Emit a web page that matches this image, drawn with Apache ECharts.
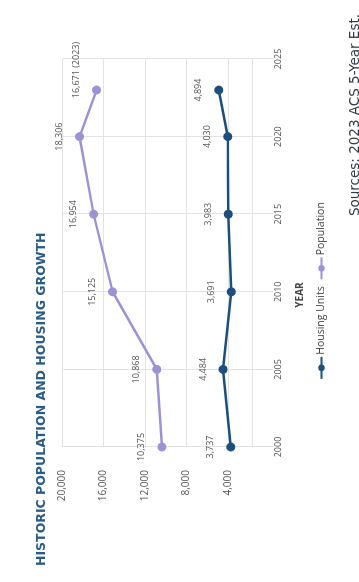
<!DOCTYPE html>
<html>
<head>
<meta charset="utf-8">
<script src="https://cdn.jsdelivr.net/npm/echarts@6/dist/echarts.min.js"></script>
<style>
html,body{margin:0;padding:0;background:#fff;width:359px;height:582px;overflow:hidden;}
#c{position:absolute;left:0;top:0;width:582px;height:359px;transform-origin:0 0;transform:translateY(582px) rotate(-90deg);}
</style>
</head>
<body>
<div id="c"></div>
<script>
const years = [2000, 2005, 2010, 2015, 2020, 2023];
const housingUnits = [3737, 4484, 3691, 3983, 4030, 4894];
const population = [10375, 10868, 15125, 16954, 18306, 16671];
const valueTicks = [4000, 8000, 12000, 16000, 20000];

const chart = echarts.init(document.getElementById('c'));
const fmt = v => v.toLocaleString('en-US');
const lightGrid = '#e3e3e3';

chart.setOption({
  backgroundColor: '#ffffff',
  animation: false,
  textStyle: {fontFamily: 'Open Sans'},
  title: [
    {text: 'HISTORIC POPULATION AND HOUSING GROWTH', left: 11, top: 30,
     textStyle: {fontSize: 12.5, fontWeight: 700, color: '#2b5c88', fontFamily: 'DejaVu Sans'}},
    {text: 'Sources: 2023 ACS 5-Year Est.', right: 9, top: 343,
     textStyle: {fontSize: 13.5, fontWeight: 400, color: '#333d4a', fontFamily: 'DejaVu Sans'}}
  ],
  legend: {
    left: 'center', top: 311, itemWidth: 22, itemHeight: 8, itemGap: 6,
    textStyle: {fontSize: 10.5, color: '#444', padding: [0, 0, 0, -3]},
    data: ['Housing Units', 'Population']
  },
  grid: {left: 135, right: 59, top: 62, bottom: 107, containLabel: false},
  xAxis: {
    type: 'value', min: 2000, max: 2025, interval: 5,
    name: 'YEAR', nameLocation: 'middle', nameGap: 43,
    nameTextStyle: {fontSize: 10, fontWeight: 700, color: '#444', padding: [0, 84, 0, 0]},
    axisLine: {show: true, lineStyle: {color: lightGrid, width: 1}},
    axisTick: {show: true, length: 21, lineStyle: {color: lightGrid}},
    axisLabel: {margin: 22, fontSize: 9, color: '#555', formatter: v => String(v)},
    splitLine: {show: true, lineStyle: {color: lightGrid, width: 1}}
  },
  yAxis: {
    type: 'value', min: 1700, max: 20000,
    axisLine: {show: false},
    axisTick: {show: false, customValues: valueTicks},
    axisLabel: {margin: 23, fontSize: 10, color: '#555', customValues: valueTicks, formatter: v => fmt(v)},
    splitLine: {show: true, lineStyle: {color: lightGrid, width: 1}}
  },
  series: [
    {
      name: 'Housing Units', type: 'line',
      data: years.map((y, i) => [y, housingUnits[i]]),
      symbol: 'circle', symbolSize: 9,
      itemStyle: {color: '#1d4f7c'},
      lineStyle: {color: '#1d4f7c', width: 2.5},
      label: {show: true, position: 'top', distance: 11, fontSize: 9, color: '#555',
              formatter: p => fmt(p.value[1])}
    },
    {
      name: 'Population', type: 'line',
      data: years.map((y, i) => {
        const d = {value: [y, population[i]]};
        if (y === 2023) d.label = {offset: [20, 0], formatter: p => fmt(p.value[1]) + ' (2023)'};
        return d;
      }),
      symbol: 'circle', symbolSize: 9,
      itemStyle: {color: '#9d92d4'},
      lineStyle: {color: '#9d92d4', width: 2.5},
      label: {show: true, position: 'top', distance: 11, fontSize: 9, color: '#555',
              formatter: p => fmt(p.value[1])}
    }
  ]
});
</script>
</body>
</html>
